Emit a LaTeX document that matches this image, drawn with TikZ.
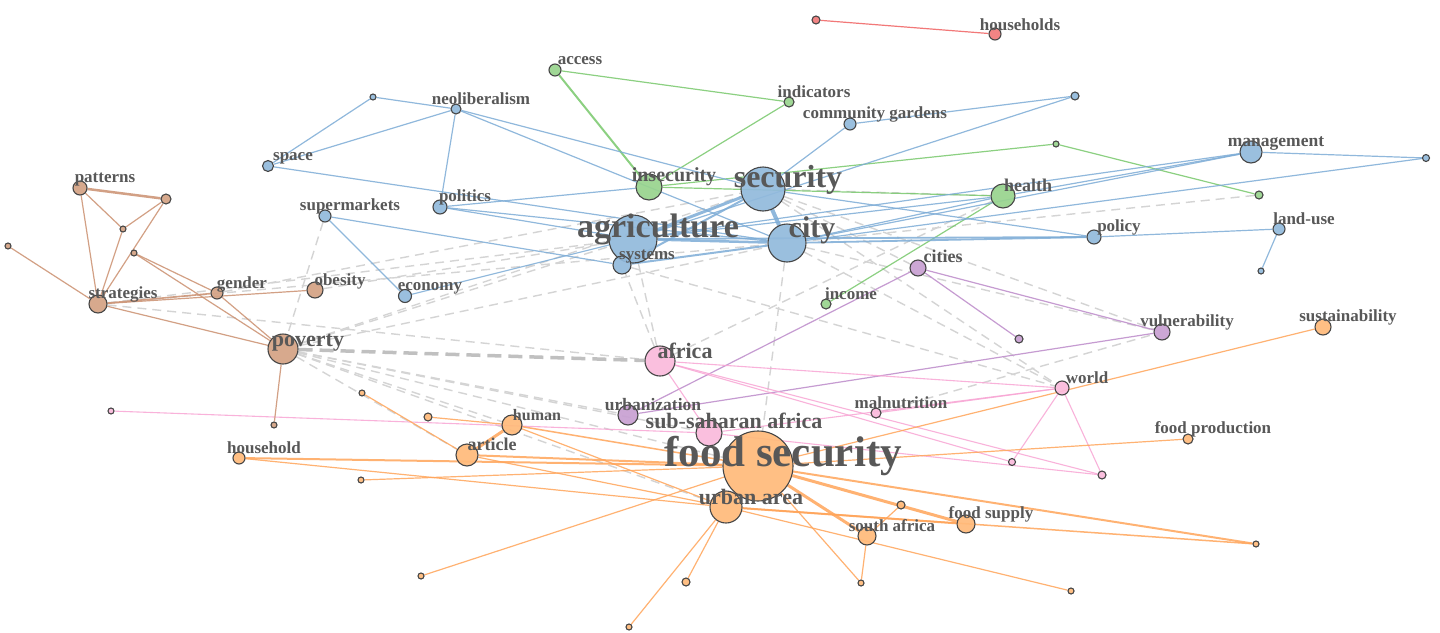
\documentclass[tikz,border=0pt]{standalone}
\usepackage{fontspec}
\setmainfont{Liberation Serif}
\definecolor{bluef}{RGB}{146,186,220}
\definecolor{bluel}{RGB}{125,172,214}
\definecolor{greenf}{RGB}{152,212,142}
\definecolor{greenl}{RGB}{120,200,108}
\definecolor{redf}{RGB}{240,122,122}
\definecolor{redl}{RGB}{242,120,120}
\definecolor{purplef}{RGB}{200,160,210}
\definecolor{purplel}{RGB}{192,145,205}
\definecolor{pinkf}{RGB}{250,186,220}
\definecolor{pinkl}{RGB}{248,165,212}
\definecolor{brownf}{RGB}{212,162,132}
\definecolor{brownl}{RGB}{206,150,120}
\definecolor{orangef}{RGB}{255,186,122}
\definecolor{orangel}{RGB}{255,165,90}
\definecolor{dashc}{RGB}{212,212,212}
\definecolor{dashd}{RGB}{192,192,192}
\definecolor{ndline}{RGB}{70,70,70}
\definecolor{txtc}{RGB}{88,88,88}
\pgfdeclarelayer{bgl}
\pgfdeclarelayer{edges}
\pgfsetlayers{bgl,edges,main}
\newcommand\nd[5]{\node[#2,minimum size={2*#5pt}] (#1) at (#3,#4) {};}
\newcommand\lb[5]{\node[lbl,font=\fontsize{#4}{#4}\selectfont\bfseries] (L#1) at (#2,#3) {#5};}
\begin{document}
\begin{tikzpicture}[x=1pt,y=-1pt,
  nd/.style={circle,draw=ndline,line width=1.1pt,inner sep=0pt,fill opacity=.92},
  B/.style={nd,fill=bluef}, G/.style={nd,fill=greenf}, R/.style={nd,fill=redf},
  P/.style={nd,fill=purplef}, K/.style={nd,fill=pinkf}, W/.style={nd,fill=brownf},
  O/.style={nd,fill=orangef},
  lbl/.style={anchor=base,inner sep=0pt,text=txtc},
  eB/.style={draw=bluel,line width=1.2pt,opacity=.85},
  eG/.style={draw=greenl,line width=1.2pt,opacity=.85},
  eR/.style={draw=redl,line width=1.2pt},
  eP/.style={draw=purplel,line width=1.2pt,opacity=.9},
  eK/.style={draw=pinkl,line width=1.1pt,opacity=.85},
  eW/.style={draw=brownl,line width=1.2pt,opacity=.9},
  eO/.style={draw=orangel,line width=1.2pt,opacity=.85},
  dsh/.style={draw=dashc,line width=1.4pt,dash pattern=on 9pt off 6pt},
]
\useasboundingbox (0,0) rectangle (1440,632);
\begin{pgfonlayer}{bgl}
\fill[white] (0,0) rectangle (1440,632);
\end{pgfonlayer}
% nodes
\nd{r1}{R}{816}{20}{4}
\nd{households}{R}{995}{34}{6}
\nd{access}{G}{555}{70}{6}
\nd{indicators}{G}{789}{102}{5}
\nd{insecurity}{G}{649}{187}{13}
\nd{health}{G}{1003}{196}{12}
\nd{g1}{G}{1056}{144}{3}
\nd{g2}{G}{1259}{195}{4}
\nd{income}{G}{826}{304}{5}
\nd{b1}{B}{373}{97}{3}
\nd{neolib}{B}{456}{109}{5}
\nd{space}{B}{268}{166}{5.5}
\nd{supermk}{B}{325}{216}{6}
\nd{politics}{B}{440}{207}{7}
\nd{agri}{B}{633}{239}{24}
\nd{systems}{B}{622}{265}{9}
\nd{security}{B}{763}{189}{22}
\nd{city}{B}{787}{243}{19}
\nd{economy}{B}{405}{296}{6.5}
\nd{commg}{B}{850}{124}{6}
\nd{b2}{B}{1075}{96}{4}
\nd{mgmt}{B}{1251}{152}{11}
\nd{b3}{B}{1426}{158}{3.5}
\nd{policy}{B}{1094}{237}{7}
\nd{landuse}{B}{1279}{229}{6}
\nd{b4}{B}{1261}{271}{3}
\nd{cities}{P}{918}{268}{8}
\nd{p1}{P}{1019}{339}{4}
\nd{vuln}{P}{1162}{332}{8}
\nd{urbz}{P}{628}{415}{10}
\nd{africa}{K}{660}{361}{15}
\nd{ssa}{K}{709}{433}{13}
\nd{maln}{K}{876}{413}{5}
\nd{world}{K}{1062}{388}{7}
\nd{pk1}{K}{1012}{462}{3.5}
\nd{pk2}{K}{1102}{475}{4}
\nd{pk3}{K}{111}{411}{3}
\nd{patterns}{W}{80}{188}{7}
\nd{br1}{W}{166}{199}{5}
\nd{br2}{W}{123}{229}{3}
\nd{br3}{W}{134}{253}{3}
\nd{br4}{W}{8}{246}{3}
\nd{strat}{W}{98}{304}{9}
\nd{gender}{W}{217}{293}{6}
\nd{obesity}{W}{315}{290}{8}
\nd{poverty}{W}{283}{349}{15}
\nd{br5}{W}{274}{425}{3}
\nd{fs}{O}{758}{466}{35}
\nd{ua}{O}{726}{507}{16}
\nd{human}{O}{512}{425}{10}
\nd{article}{O}{467}{455}{11}
\nd{household}{O}{239}{458}{6}
\nd{o1}{O}{362}{393}{3}
\nd{o2}{O}{428}{417}{4}
\nd{o3}{O}{361}{480}{3}
\nd{o4}{O}{421}{576}{3}
\nd{o5}{O}{686}{582}{4}
\nd{o6}{O}{629}{627}{3}
\nd{safr}{O}{867}{536}{9}
\nd{o7}{O}{901}{505}{4}
\nd{fsup}{O}{966}{524}{9}
\nd{o8}{O}{861}{583}{3}
\nd{o9}{O}{1071}{591}{3}
\nd{o10}{O}{1256}{544}{3}
\nd{sust}{O}{1323}{327}{8}
\nd{fprod}{O}{1188}{439}{5}
\begin{pgfonlayer}{edges}
% dashed inter-cluster links
\draw[dsh] (poverty) -- (fs);
\draw[dsh] (poverty) -- (ssa);
\draw[dsh] (poverty) -- (urbz);
\draw[dsh] (poverty) -- (human);
\draw[dsh] (poverty) -- (article);
\draw[dsh] (poverty) -- (ua);
\draw[dsh] (poverty) -- (city);
\draw[dsh] (poverty) -- (agri);
\draw[dsh] (poverty) -- (security);
\draw[dsh] (strat) -- (africa);
\draw[dsh] (strat) -- (agri);
\draw[dsh] (strat) -- (city);
\draw[dsh] (gender) -- (security);
\draw[dsh] (supermk) -- (poverty);
\draw[dsh] (obesity) -- (agri);
\draw[dsh] (africa) -- (agri);
\draw[dsh] (africa) -- (systems);
\draw[dsh] (city) -- (fs);
\draw[dsh] (security) -- (world);
\draw[dsh] (city) -- (world);
\draw[dsh] (systems) -- (world);
\draw[dsh] (security) -- (vuln);
\draw[dsh] (city) -- (vuln);
\draw[dsh] (africa) -- (health);
\draw[dsh] (health) -- (security);
\draw[dsh] (g2) -- (city);
\draw[dsh] (maln) -- (vuln);
\draw[dsh] (security) -- (cities);
\draw[dsh,draw=dashd,line width=3.5pt,dash pattern=on 14pt off 7pt] (poverty) -- (africa);
% red
\draw[eR] (r1) -- (households);
% green
\draw[eG,line width=2pt] (access) -- (insecurity);
\draw[eG] (access) -- (indicators);
\draw[eG] (indicators) -- (insecurity);
\draw[eG] (insecurity) -- (health);
\draw[eG] (insecurity) -- (g1);
\draw[eG] (g1) -- (g2);
\draw[eG] (health) -- (income);
% blue
\draw[eB] (b1) -- (space);
\draw[eB] (b1) -- (neolib);
\draw[eB] (neolib) -- (space);
\draw[eB] (neolib) -- (politics);
\draw[eB] (neolib) -- (security);
\draw[eB] (neolib) -- (city);
\draw[eB] (space) -- (city);
\draw[eB] (politics) -- (insecurity);
\draw[eB] (politics) -- (city);
\draw[eB] (politics) -- (agri);
\draw[eB] (supermk) -- (systems);
\draw[eB] (supermk) -- (economy);
\draw[eB] (economy) -- (agri);
\draw[eB] (commg) -- (security);
\draw[eB] (commg) -- (b2);
\draw[eB] (b2) -- (agri);
\draw[eB] (mgmt) -- (agri);
\draw[eB] (mgmt) -- (city);
\draw[eB] (mgmt) -- (b3);
\draw[eB] (b3) -- (city);
\draw[eB] (policy) -- (landuse);
\draw[eB] (landuse) -- (b4);
\draw[eB,line width=1.8pt] (policy) -- (agri);
\draw[eB,line width=1.8pt] (policy) -- (city);
\draw[eB] (policy) -- (security);
\draw[eB] (health) -- (agri);
\draw[eB] (health) -- (city);
\draw[eB] (health) -- (mgmt);
\draw[eB,line width=3pt] (security) -- (agri);
\draw[eB,line width=4pt] (security) -- (city);
\draw[eB,line width=2.5pt] (agri) -- (city);
\draw[eB,line width=2pt] (systems) -- (city);
\draw[eB,line width=2pt] (systems) -- (security);
% purple
\draw[eP] (cities) -- (p1);
\draw[eP] (cities) -- (vuln);
\draw[eP] (cities) -- (urbz);
\draw[eP] (urbz) -- (vuln);
% pink
\draw[eK] (africa) -- (world);
\draw[eK] (africa) -- (pk2);
\draw[eK] (africa) -- (pk1);
\draw[eK] (africa) -- (ssa);
\draw[eK] (ssa) -- (world);
\draw[eK] (ssa) -- (pk2);
\draw[eK] (pk3) -- (ssa);
\draw[eK] (maln) -- (world);
\draw[eK] (world) -- (pk1);
\draw[eK] (world) -- (pk2);
% brown
\draw[eW,line width=2.5pt] (patterns) -- (br1);
\draw[eW] (patterns) -- (br2);
\draw[eW] (patterns) -- (strat);
\draw[eW] (br1) -- (br2);
\draw[eW] (br1) -- (strat);
\draw[eW] (br2) -- (strat);
\draw[eW] (br3) -- (gender);
\draw[eW] (br3) -- (poverty);
\draw[eW] (br4) -- (strat);
\draw[eW,line width=1.6pt] (strat) -- (gender);
\draw[eW] (strat) -- (obesity);
\draw[eW] (strat) -- (poverty);
\draw[eW] (gender) -- (poverty);
\draw[eW] (poverty) -- (br5);
% orange
\draw[eO,line width=5pt] (fs) -- (ua);
\draw[eO,line width=1.5pt] (fs) -- (human);
\draw[eO,line width=2pt] (fs) -- (article);
\draw[eO,line width=2pt] (household) -- (fs);
\draw[eO] (household) -- (ua);
\draw[eO] (o1) -- (article);
\draw[eO] (o2) -- (human);
\draw[eO,line width=3pt] (human) -- (article);
\draw[eO] (o3) -- (fs);
\draw[eO] (o4) -- (fs);
\draw[eO] (o5) -- (ua);
\draw[eO] (o6) -- (ua);
\draw[eO,line width=3pt] (fs) -- (safr);
\draw[eO,line width=3pt] (fs) -- (fsup);
\draw[eO,line width=2pt] (fs) -- (o10);
\draw[eO,line width=2pt] (ua) -- (fsup);
\draw[eO,line width=1.5pt] (ua) -- (o10);
\draw[eO] (ua) -- (o9);
\draw[eO] (fs) -- (o8);
\draw[eO] (safr) -- (o8);
\draw[eO] (safr) -- (o7);
\draw[eO] (sust) -- (fs);
\draw[eO] (fprod) -- (fs);
\draw[eO] (human) -- (ua);
\draw[eO] (article) -- (ua);
\end{pgfonlayer}
% labels
\lb{households}{1020}{30}{17}{households}
\lb{access}{580}{64}{17}{access}
\lb{indicators}{814}{97}{17}{indicators}
\lb{insecurity}{674}{181}{20}{insecurity}
\lb{health}{1028}{191}{18}{health}
\lb{income}{851}{299}{17}{income}
\lb{neolib}{481}{104}{17}{neoliberalism}
\lb{space}{293}{160}{17}{space}
\lb{supermk}{350}{210}{17}{supermarkets}
\lb{politics}{465}{201}{17}{politics}
\lb{agri}{658}{237}{34}{agriculture}
\lb{systems}{647}{259}{17}{systems}
\lb{security}{788}{187}{32}{security}
\lb{city}{812}{237}{30}{city}
\lb{economy}{430}{290}{17}{economy}
\lb{commg}{875}{118}{17}{community gardens}
\lb{mgmt}{1276}{146}{17.5}{management}
\lb{policy}{1119}{231}{17}{policy}
\lb{landuse}{1304}{224}{17}{land-use}
\lb{cities}{943}{262}{18}{cities}
\lb{vuln}{1187}{326}{17}{vulnerability}
\lb{urbz}{653}{410}{17.5}{urbanization}
\lb{africa}{685}{358}{22}{africa}
\lb{ssa}{734}{428}{22}{sub-saharan africa}
\lb{maln}{901}{408}{17}{malnutrition}
\lb{world}{1087}{383}{17}{world}
\lb{fs}{783}{466}{43}{food security}
\lb{ua}{751}{504}{22}{urban area}
\lb{human}{537}{420}{16}{human}
\lb{article}{492}{450}{18}{article}
\lb{household}{264}{453}{17}{household}
\lb{safr}{892}{531}{17}{south africa}
\lb{fsup}{991}{518}{17}{food supply}
\lb{sust}{1348}{321}{17}{sustainability}
\lb{fprod}{1213}{433}{17}{food production}
\lb{patterns}{105}{182}{17}{patterns}
\lb{strat}{123}{298}{17}{strategies}
\lb{gender}{242}{288}{17}{gender}
\lb{obesity}{340}{285}{17}{obesity}
\lb{poverty}{308}{346}{22}{poverty}
\end{tikzpicture}
\end{document}
